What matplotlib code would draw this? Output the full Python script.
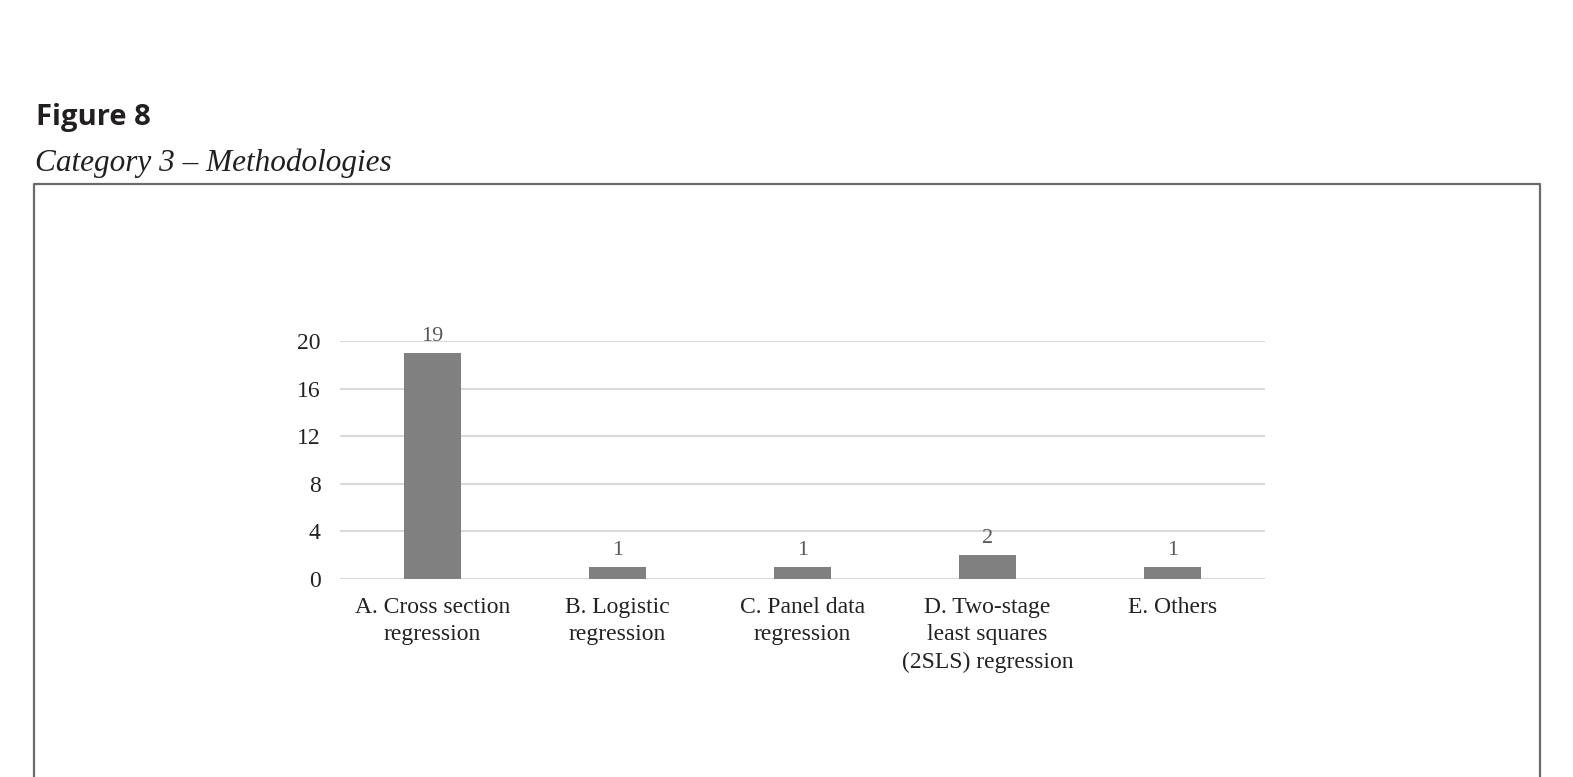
import matplotlib.pyplot as plt
from matplotlib.lines import Line2D

# data
categories = ['A. Cross section\nregression', 'B. Logistic\nregression', 'C. Panel data\nregression',
              'D. Two-stage\nleast squares\n(2SLS) regression', 'E. Others']
counts = [19, 1, 1, 2, 1]
yticks = [0, 4, 8, 12, 16, 20]

W, H = 1573, 777
fig = plt.figure(figsize=(W/100, H/100), dpi=100)

# frame around the chart (open at the bottom)
x0, x1, y0 = 34/W, 1540/W, 1 - 184/H
fig.add_artist(Line2D([x0, x0, x1, x1], [0, y0, y0, 0], transform=fig.transFigure,
                      color='#6b6b6b', linewidth=1.6))

fig.text(36/W, 1 - 117/H, 'Figure 8', fontsize=21, fontweight='bold',
         family='Open Sans', color='#231f20', va='center', ha='left')
fig.text(35/W, 1 - 163/H, 'Category 3 \u2013 Methodologies', fontsize=22.5, style='italic',
         family='Liberation Serif', color='#231f20', va='center', ha='left')

ax = fig.add_axes([340/W, 1 - 579/H, 925/W, 238/H])
x = range(len(categories))
bars = ax.bar(x, counts, width=0.31, color='#808080', zorder=3)
ax.set_xlim(-0.5, len(categories) - 0.5)
ax.set_ylim(0, 20)
ax.set_yticks(yticks)
ax.set_xticks(list(x))
ax.set_xticklabels(categories, family='Liberation Serif', fontsize=17, color='#222222',
                   linespacing=1.4)
for lab in ax.get_yticklabels():
    lab.set_family('Liberation Serif')
    lab.set_fontsize(17)
    lab.set_color('#222222')
ax.tick_params(axis='both', length=0)
ax.tick_params(axis='y', pad=14)
ax.tick_params(axis='x', pad=13)
ax.grid(axis='y', color='#d9d9d9', linewidth=1.5, zorder=0)
for s in ax.spines.values():
    s.set_visible(False)
ax.set_axisbelow(True)

for b, v in zip(bars, counts):
    ax.annotate(str(v), (b.get_x() + b.get_width()/2, v), xytext=(0, 5),
                textcoords='offset points', ha='center', va='bottom',
                family='Liberation Serif', fontsize=16, color='#595959')

fig.savefig('out.png', dpi=100)
